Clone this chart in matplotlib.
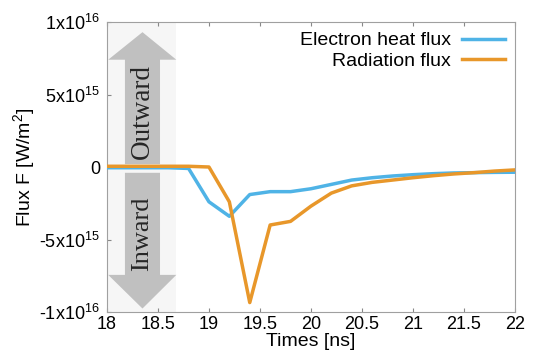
import numpy as np
import matplotlib.pyplot as plt
from matplotlib.patches import Polygon, Rectangle

plt.rcParams['font.family'] = ['Liberation Sans', 'DejaVu Sans']
plt.rcParams['mathtext.fontset'] = 'custom'
plt.rcParams['mathtext.rm'] = 'Liberation Sans'

# time grid (ns) and fluxes (in units of 1e15 W/m^2)
t = [18.0, 18.2, 18.4, 18.6, 18.8, 19.0, 19.2, 19.4, 19.6, 19.8, 20.0, 20.2,
     20.4, 20.6, 20.8, 21.0, 21.2, 21.4, 21.6, 21.8, 22.0]
electron = [-0.05, -0.05, -0.05, -0.05, -0.1, -2.4, -3.4, -1.9, -1.7, -1.7, -1.5, -1.2,
            -0.9, -0.74, -0.62, -0.53, -0.46, -0.41, -0.39, -0.37, -0.36]
radiation = [0.05, 0.05, 0.05, 0.05, 0.05, 0.0, -2.4, -9.35, -4.0, -3.75, -2.7, -1.8,
             -1.3, -1.06, -0.9, -0.74, -0.6, -0.48, -0.39, -0.28, -0.2]

xticks = [18, 18.5, 19, 19.5, 20, 20.5, 21, 21.5, 22]
yticks = [-1e16, -5e15, 0, 5e15, 1e16]
ytick_labels = [r'-1x10$^{16}$', r'-5x10$^{15}$', '0', r'5x10$^{15}$', r'1x10$^{16}$']

fig = plt.figure(figsize=(5.36, 3.58), dpi=100)
ax = fig.add_axes([0.1996, 0.1285, 0.761, 0.81])

# direction arrows on the left
tr = ax.transAxes
ax.add_patch(Rectangle((0, 0), 0.17, 1, transform=tr, color='#f6f6f6', zorder=0, lw=0))
gray = '#c0c0c0'
up = [(0.044, 0.51), (0.13, 0.51), (0.13, 0.87), (0.17, 0.87), (0.087, 0.965),
      (0.003, 0.87), (0.044, 0.87)]
down = [(0.044, 0.48), (0.13, 0.48), (0.13, 0.128), (0.17, 0.128), (0.087, 0.012),
        (0.003, 0.128), (0.044, 0.128)]
ax.add_patch(Polygon(up, closed=True, transform=tr, color=gray, zorder=1, lw=0))
ax.add_patch(Polygon(down, closed=True, transform=tr, color=gray, zorder=1, lw=0))
ax.text(0.087, 0.69, 'Outward', transform=tr, rotation=90, ha='center', va='center',
        family='Liberation Serif', fontsize=19.5, color='#262626', zorder=2)
ax.text(0.087, 0.27, 'Inward', transform=tr, rotation=90, ha='center', va='center',
        family='Liberation Serif', fontsize=19, color='#262626', zorder=2)

ax.plot(t, np.array(electron) * 1e15, color='#4fb3e6', lw=2.5, label='Electron heat flux', zorder=3)
ax.plot(t, np.array(radiation) * 1e15, color='#e8972a', lw=2.5, label='Radiation flux', zorder=4)

ax.set_xlim(18, 22)
ax.set_ylim(-1e16, 1e16)
ax.set_xticks(xticks)
ax.set_xticklabels([f'{v:g}' for v in xticks])
ax.set_yticks(yticks)
ax.set_yticklabels(ytick_labels)
ax.tick_params(direction='in', top=True, right=False, labelsize=13, length=3,
               color='#888888')
ax.tick_params(axis='x', pad=3)
ax.tick_params(axis='y', pad=5)
for s in ax.spines.values():
    s.set_color('#a0a0a0')
ax.set_xlabel('Times [ns]', fontsize=14, labelpad=0)
ax.set_ylabel(r'Flux F [W/m$^2$]', fontsize=14, labelpad=1)

ax.legend(loc='upper right', frameon=False, markerfirst=False, fontsize=14,
          handlelength=2.2, handletextpad=0.6, borderaxespad=0.1, labelspacing=0.15)

fig.savefig('out.png', dpi=100)
